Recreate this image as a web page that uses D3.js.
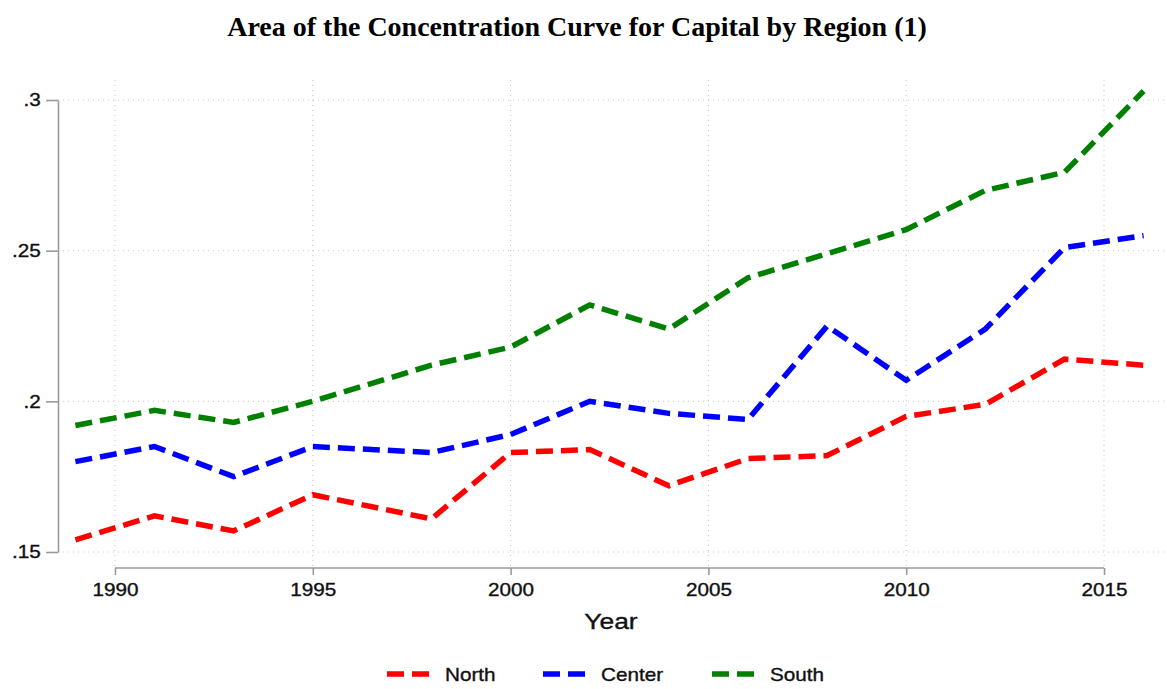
<!DOCTYPE html>
<html>
<head>
<meta charset="utf-8">
<script src="https://cdn.jsdelivr.net/npm/d3@7"></script>
<style>
    body { margin: 0; background: #fff; }
    svg { display: block; }
    .tick text { font-family: "Liberation Sans", Arial, sans-serif; }
    .sans { stroke: #111; stroke-width: 0.35px; }
</style>
</head>
<body>
<div id="chart"></div>
<script>
const years = [1989, 1991, 1993, 1995, 1998, 2000, 2002, 2004, 2006, 2008, 2010, 2012, 2014, 2016];
const north = [0.154, 0.162, 0.157, 0.169, 0.161, 0.183, 0.184, 0.172, 0.181, 0.182, 0.195, 0.199, 0.214, 0.212];
const center = [0.180, 0.185, 0.175, 0.185, 0.183, 0.189, 0.200, 0.196, 0.194, 0.225, 0.207, 0.224, 0.251, 0.255];
const south = [0.192, 0.197, 0.193, 0.200, 0.212, 0.218, 0.232, 0.224, 0.241, 0.249, 0.257, 0.270, 0.276, 0.303];
const regions = ["North", "Center", "South"];
const colors = ["#ff0000", "#0000ff", "#008000"];
const xTicks = [1990, 1995, 2000, 2005, 2010, 2015];
const yTicks = [0.15, 0.2, 0.25, 0.3];
const yTickLabels = [".15", ".2", ".25", ".3"];

const width = 1167;
const height = 689;
const stretch = 1.15; // reference sans text is a bit wide

const svg = d3.select('#chart')
    .append('svg')
    .attr('width', width)
    .attr('height', height);

const xScale = d3.scaleLinear().domain([1989, 2016]).range([75.4, 1143.6]);
const yScale = d3.scaleLinear().domain([0.15, 0.3]).range([552, 100]);

const plot = { left: 58, right: 1165, top: 80, bottom: 568 };

// title
svg.append('text')
    .attr('x', 577)
    .attr('y', 36)
    .attr('text-anchor', 'middle')
    .style('font-family', '"Liberation Serif", "Times New Roman", serif')
    .style('font-weight', 'bold')
    .style('font-size', '28px')
    .text('Area of the Concentration Curve for Capital by Region (1)');

// grid lines
const grid = svg.append('g').attr('class', 'grid');
grid.selectAll('line.h')
    .data(yTicks)
    .join('line')
    .attr('class', 'h')
    .attr('x1', plot.left)
    .attr('x2', plot.right)
    .attr('y1', (d) => yScale(d))
    .attr('y2', (d) => yScale(d))
    .attr('stroke', '#c8c8c8')
    .attr('stroke-width', 1)
    .attr('stroke-dasharray', '1,4');

grid.selectAll('line.v')
    .data(xTicks)
    .join('line')
    .attr('class', 'v')
    .attr('x1', (d) => xScale(d))
    .attr('x2', (d) => xScale(d))
    .attr('y1', plot.top)
    .attr('y2', plot.bottom)
    .attr('stroke', '#c8c8c8')
    .attr('stroke-width', 1)
    .attr('stroke-dasharray', '1,4');

// y axis
const yAxis = d3.axisLeft(yScale)
    .tickValues(yTicks)
    .tickFormat((d, i) => yTickLabels[i])
    .tickSize(12)
    .tickSizeOuter(0)
    .tickPadding(3);

const yg = svg.append('g')
    .attr('transform', `translate(${plot.left}, 0)`)
    .call(yAxis);
yg.select('.domain').attr('stroke', '#9a9a9a').attr('stroke-width', 1.6);
yg.selectAll('.tick line').attr('stroke', '#9a9a9a').attr('stroke-width', 1.6);
yg.selectAll('.tick text')
    .attr('class', 'sans')
    .style('font-size', '18px')
    .attr('fill', '#111')
    .attr('transform', `scale(${stretch},1)`);

// x axis
const xAxis = d3.axisBottom(xScale)
    .tickValues(xTicks)
    .tickFormat(d3.format('d'))
    .tickSize(7)
    .tickSizeOuter(0)
    .tickPadding(8);

const xg = svg.append('g')
    .attr('transform', `translate(0, ${plot.bottom})`)
    .call(xAxis);
xg.select('.domain')
    .attr('d', `M${xScale(1990)},0H${xScale(2015)}`)
    .attr('stroke', '#9a9a9a').attr('stroke-width', 1.6);
xg.selectAll('.tick line').attr('stroke', '#9a9a9a').attr('stroke-width', 1.6);
xg.selectAll('.tick text')
    .attr('class', 'sans')
    .style('font-size', '18px')
    .attr('fill', '#111')
    .attr('transform', `scale(${stretch},1)`);

svg.append('text')
    .attr('class', 'sans')
    .attr('transform', `translate(611, 629) scale(1.2,1)`)
    .attr('text-anchor', 'middle')
    .style('font-family', '"Liberation Sans", Arial, sans-serif')
    .style('font-size', '22px')
    .attr('fill', '#111')
    .text('Year');

// lines
const series = [north, center, south];
const line = d3.line()
    .x((d) => xScale(d[0]))
    .y((d) => yScale(d[1]));

svg.append('g')
    .selectAll('path')
    .data(series)
    .join('path')
    .attr('d', (vals) => line(years.map((y, i) => [y, vals[i]])))
    .attr('fill', 'none')
    .attr('stroke', (d, i) => colors[i])
    .attr('stroke-width', 5.5)
    .attr('stroke-dasharray', '17,8');

// legend
const legendX = [387, 543, 712];
const legend = svg.append('g')
    .selectAll('g')
    .data(regions)
    .join('g')
    .attr('transform', (d, i) => `translate(${legendX[i]}, 674)`);

legend.append('line')
    .attr('x1', 0)
    .attr('x2', 42)
    .attr('stroke', (d, i) => colors[i])
    .attr('stroke-width', 5.5)
    .attr('stroke-dasharray', '17,8');

legend.append('text')
    .attr('class', 'sans')
    .attr('transform', `translate(58, 6.5) scale(${stretch},1)`)
    .style('font-family', '"Liberation Sans", Arial, sans-serif')
    .style('font-size', '18px')
    .attr('fill', '#111')
    .text((d) => d);
</script>
</body>
</html>
